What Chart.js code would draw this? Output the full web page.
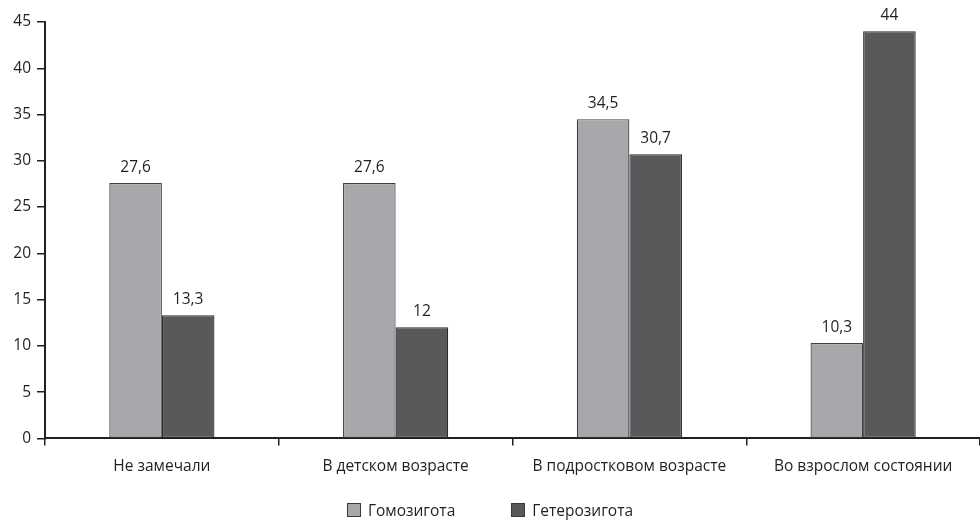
<!DOCTYPE html>
<html>
<head>
<meta charset="utf-8">
<script src="https://cdn.jsdelivr.net/npm/chart.js@4/dist/chart.umd.min.js"></script>
<style>
  html, body { margin: 0; padding: 0; background: #fff; }
  #wrap { width: 980px; height: 526px; position: relative; }
  #legend {
    position: absolute; left: 0; right: 0; top: 499px;
    display: flex; justify-content: center; gap: 56px;
    font: 15.5px "Open Sans", "Noto Sans", sans-serif; color: #231f20;
  }
  #legend span.item { display: flex; align-items: center; }
  #legend span.box { display: inline-block; width: 12px; height: 12px; margin-right: 7px; border: 1px solid #3a3a3c; }
</style>
</head>
<body>
<div id="wrap"><canvas id="chart"></canvas><div id="legend"></div></div>
<script>
const categories = ['Не замечали', 'В детском возрасте', 'В подростковом возрасте', 'Во взрослом состоянии']
const homozygous = [27.6, 27.6, 34.5, 10.3]
const heterozygous = [13.3, 12, 30.7, 44]
const seriesNames = ['Гомозигота', 'Гетерозигота']
const seriesColors = ['#a7a8ab', '#58595b']
const yTicks = [0, 5, 10, 15, 20, 25, 30, 35, 40, 45]

const textColor = '#231f20'
const fontFamily = '"Open Sans", "Noto Sans", sans-serif'
const fontSize = 15.5

// value above every bar, comma as decimal separator
const valueLabels = {
  id: 'valueLabels',
  afterDatasetsDraw(chart) {
    const ctx = chart.ctx
    ctx.save()
    ctx.fillStyle = textColor
    ctx.font = fontSize + 'px ' + fontFamily
    ctx.textAlign = 'center'
    ctx.textBaseline = 'bottom'
    chart.data.datasets.forEach((ds, di) => {
      chart.getDatasetMeta(di).data.forEach((bar, i) => {
        const txt = String(ds.data[i]).replace('.', ',')
        ctx.fillText(txt, bar.x, bar.y - 8)
      })
    })
    ctx.restore()
  },
}

const chart = new Chart(document.getElementById('chart'), {
  type: 'bar',
  data: {
    labels: categories,
    datasets: [
      {
        label: seriesNames[0],
        data: homozygous,
        backgroundColor: seriesColors[0],
        borderColor: '#404042',
        borderWidth: 1.2,
        borderSkipped: false,
      },
      {
        label: seriesNames[1],
        data: heterozygous,
        backgroundColor: seriesColors[1],
        borderColor: '#2b2b2d',
        borderWidth: 1.2,
        borderSkipped: false,
      },
    ],
  },
  options: {
    responsive: true,
    maintainAspectRatio: false,
    animation: false,
    layout: { padding: { top: 22, right: 0, left: 0, bottom: 38 } },
    datasets: { bar: { barPercentage: 1, categoryPercentage: 0.45 } },
    plugins: {
      legend: { display: false },
      tooltip: { enabled: false },
    },
    scales: {
      x: {
        grid: { display: true, drawOnChartArea: false, drawTicks: true, tickLength: 7, color: textColor, lineWidth: 1.5, offset: true },
        border: { display: true, color: textColor, width: 2 },
        ticks: { color: textColor, font: { family: fontFamily, size: fontSize }, padding: 12, maxRotation: 0 },
      },
      y: {
        min: 0,
        max: 45,
        afterBuildTicks: (s) => { s.ticks = yTicks.map((v) => ({ value: v })) },
        grid: { display: true, drawOnChartArea: false, drawTicks: true, tickLength: 8, color: textColor, lineWidth: 1.5 },
        border: { display: true, color: textColor, width: 2 },
        ticks: { color: textColor, font: { family: fontFamily, size: fontSize }, padding: 6 },
        afterFit: (s) => { s.width = 45 },
      },
    },
  },
  plugins: [valueLabels],
})

const legend = document.getElementById('legend')
chart.data.datasets.forEach((ds) => {
  const item = document.createElement('span')
  item.className = 'item'
  const box = document.createElement('span')
  box.className = 'box'
  box.style.background = ds.backgroundColor
  item.appendChild(box)
  item.appendChild(document.createTextNode(ds.label))
  legend.appendChild(item)
})
</script>
</body>
</html>
